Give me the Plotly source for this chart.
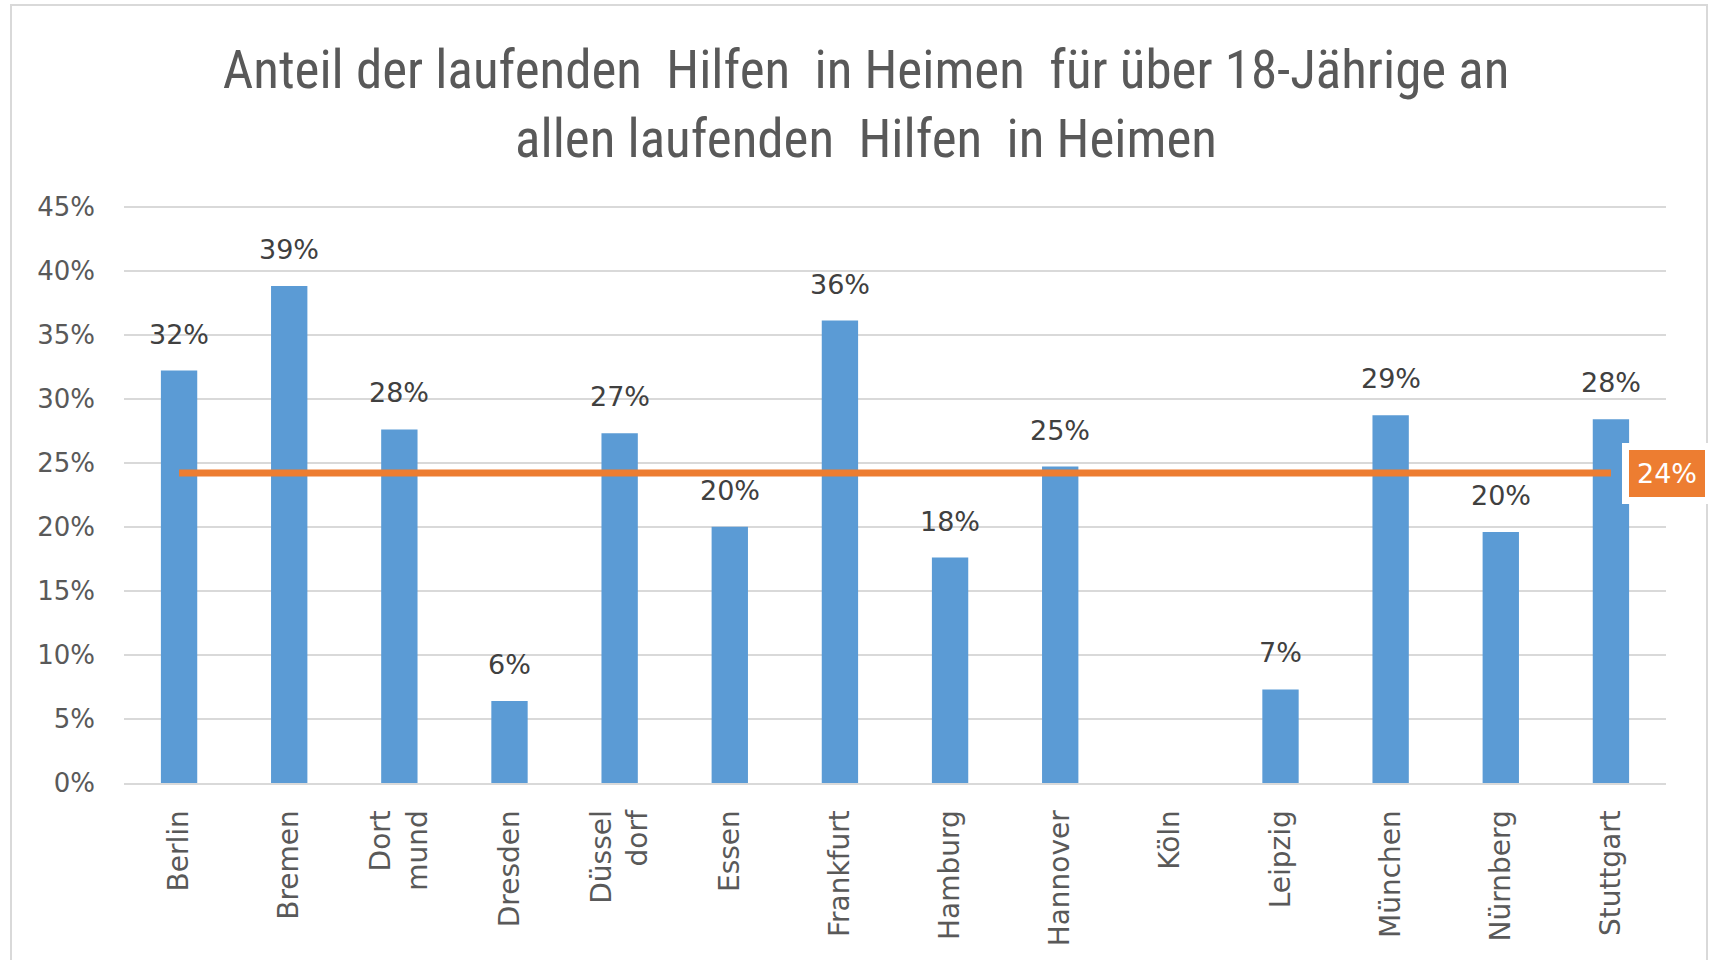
import plotly.graph_objects as go

cities = ["Berlin", "Bremen", "Dort<br>mund", "Dresden", "Düssel<br>dorf", "Essen", "Frankfurt",
          "Hamburg", "Hannover", "Köln", "Leipzig", "München", "Nürnberg", "Stuttgart"]
shares = [0.322, 0.388, 0.276, 0.064, 0.273, 0.200, 0.361,
          0.176, 0.247, None, 0.073, 0.287, 0.196, 0.284]
average = 0.242
avg_label = "24%"
title = "Anteil der laufenden  Hilfen  in Heimen  für über 18-Jährige an<br>allen laufenden  Hilfen  in Heimen"

W, H = 1710, 960
L, R, T, B = 124, 44, 204, 177
pw, ph = W - L - R, H - T - B

def px_x(v):
    return (v - L) / pw

def px_y(v):
    return (H - B - v) / ph

fig = go.Figure()
fig.add_trace(go.Bar(x=cities, y=shares, marker=dict(color="#5B9BD5", line=dict(width=0)),
                     hoverinfo="x+y"))
fig.add_trace(go.Scatter(x=[cities[0], cities[-1]], y=[average, average], mode="lines",
                         line=dict(color="#ED7D31", width=7), hoverinfo="y"))

for c, v in zip(cities, shares):
    if v is None:
        continue
    fig.add_annotation(x=c, y=v, text=f"{v*100:.0f}%", showarrow=False, yanchor="bottom",
                       yshift=19, font=dict(family="DejaVu Sans", size=27, color="#404040"))

fig.add_annotation(x=cities[-1], y=average, text=avg_label, showarrow=False, xanchor="left",
                   yanchor="middle", xshift=11, bgcolor="#ED7D31", bordercolor="white",
                   borderwidth=7, borderpad=8,
                   font=dict(family="DejaVu Sans", size=27, color="white"))

# chart frame
fig.add_shape(type="rect", xref="paper", yref="paper",
              x0=px_x(11), x1=px_x(1707), y0=px_y(990), y1=px_y(5),
              line=dict(color="#D9D9D9", width=2), fillcolor="rgba(0,0,0,0)", layer="below")

fig.update_layout(
    width=W, height=H,
    margin=dict(l=L, r=R, t=T, b=B, autoexpand=False),
    paper_bgcolor="white", plot_bgcolor="white",
    showlegend=False, bargap=0.67,
    title=dict(text=title, x=866 / W, xanchor="center", xref="container",
               y=1 - 88 / H, yanchor="middle",
               font=dict(family="Roboto Condensed, Liberation Sans Narrow, Liberation Sans", size=53,
                         color="#595959")),
)
fig.update_xaxes(range=[-0.5, 13.5], tickangle=-90,
                 tickfont=dict(family="DejaVu Sans", size=28, color="#595959"),
                 showgrid=False, showline=True,
                 linecolor="#D9D9D9", linewidth=2, ticks="", ticklabelstandoff=14)
fig.update_yaxes(range=[0, 0.452], tickvals=[i * 0.05 for i in range(10)], tickformat=".0%",
                 tickfont=dict(family="DejaVu Sans", size=26, color="#595959"),
                 gridcolor="#D9D9D9", gridwidth=2, zeroline=False, showline=False,
                 ticks="", ticklabelstandoff=28)

fig.write_html("out.html", config={"displayModeBar": False},
               post_script="document.body.style.margin='0';")
